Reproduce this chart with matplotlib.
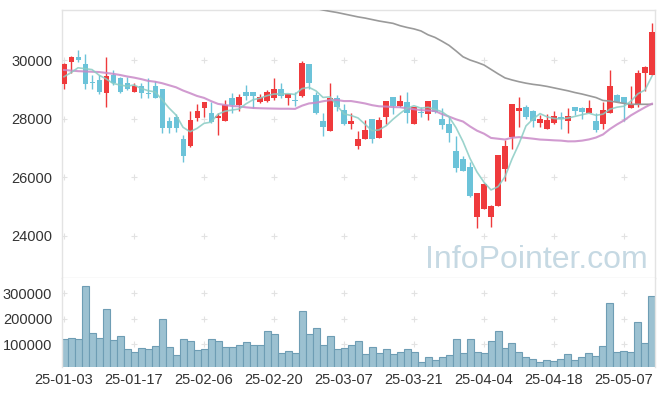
import matplotlib
matplotlib.use("Agg")
import matplotlib.pyplot as plt
import numpy as np
import pandas as pd

# trading days shown (yy-mm-dd)
dates = [
    "25-01-03", "25-01-06", "25-01-07", "25-01-08", "25-01-09", "25-01-10",
    "25-01-13", "25-01-14", "25-01-15", "25-01-16", "25-01-17", "25-01-20",
    "25-01-21", "25-01-22", "25-01-23", "25-01-24", "25-01-31",
    "25-02-03", "25-02-04", "25-02-05", "25-02-06", "25-02-07", "25-02-10",
    "25-02-11", "25-02-12", "25-02-13", "25-02-14", "25-02-17", "25-02-18",
    "25-02-19", "25-02-20", "25-02-21", "25-02-24", "25-02-25", "25-02-26",
    "25-02-27", "25-02-28",
    "25-03-04", "25-03-05", "25-03-06", "25-03-07", "25-03-10", "25-03-11",
    "25-03-12", "25-03-13", "25-03-14", "25-03-17", "25-03-18", "25-03-19",
    "25-03-20", "25-03-21", "25-03-24", "25-03-25", "25-03-26", "25-03-27",
    "25-03-28", "25-03-31",
    "25-04-01", "25-04-02", "25-04-03", "25-04-04", "25-04-07", "25-04-08",
    "25-04-09", "25-04-10", "25-04-11", "25-04-14", "25-04-15", "25-04-16",
    "25-04-17", "25-04-18", "25-04-21", "25-04-22", "25-04-23", "25-04-24",
    "25-04-25", "25-04-28", "25-04-29", "25-04-30",
    "25-05-02", "25-05-07", "25-05-08", "25-05-09", "25-05-12", "25-05-13",
]

opens = [29193, 29943, 30091, 29864, 29261, 29318, 28886, 29489, 29386, 29205,
         28920, 29114, 28864, 29114, 29011, 27920, 28068, 27307, 27079, 28034,
         28375, 28182, 28034, 27931, 28694, 28466, 28898, 28898, 28580, 28614,
         28694, 29000, 28694, 28636, 28783, 29852, 28807, 27920, 27591, 28694,
         28296, 27818, 27079, 27295, 27978, 27330, 28068, 28728, 28432, 28568,
         27807, 28216, 28148, 28636, 27989, 27818, 26898, 26625, 26341, 24659,
         24909, 24659, 25034, 26284, 27386, 28273, 28409, 28273, 27841, 27637,
         27841, 28068, 27932, 28387, 28352, 28182, 27920, 27807, 28182, 28807,
         28728, 28352, 28466, 29545, 29489]
highs = [29909, 30148, 30341, 30193, 29489, 29489, 30114, 29659, 29409, 29432,
         29227, 29205, 29375, 29295, 29011, 28068, 28148, 27443, 28261, 28489,
         28580, 28580, 28182, 28636, 28864, 28841, 29148, 28898, 28830, 28977,
         29375, 29205, 28841, 28898, 29966, 29852, 28898, 28182, 29205, 28807,
         28489, 28182, 27591, 27955, 28000, 28068, 28602, 28728, 28807, 28898,
         28387, 28387, 28591, 28636, 28352, 28068, 27409, 26739, 26534, 25477,
         25818, 25057, 26761, 27273, 28500, 28728, 28455, 28296, 28125, 28148,
         28261, 28239, 28352, 28387, 28387, 28636, 28182, 28580, 29659, 28830,
         28728, 29114, 29659, 29807, 31250]
lows = [29023, 29545, 29943, 29000, 29000, 28830, 28387, 29148, 28864, 28977,
        28898, 28693, 28693, 28693, 27500, 27522, 27557, 26513, 27050, 27920,
        28068, 27863, 27443, 27931, 28182, 28272, 28636, 28353, 28523, 28580,
        28636, 28716, 28466, 28443, 28728, 29000, 28150, 27409, 27591, 28261,
        27780, 27637, 26966, 27295, 27159, 27330, 27818, 28159, 28387, 27841,
        27807, 28046, 27955, 28182, 27637, 27216, 26193, 26200, 25341, 24262,
        24909, 24295, 25034, 25886, 26955, 27705, 27977, 27727, 27705, 27637,
        27818, 27637, 27523, 28125, 27989, 28182, 27534, 27637, 28182, 28560,
        27932, 28352, 28409, 28955, 29489]
closes = [29864, 30091, 30000, 29193, 29216, 28920, 29455, 29227, 28920, 29023,
          29114, 28886, 28830, 28716, 27693, 27693, 27693, 26739, 27955, 28261,
          28557, 27898, 28091, 28466, 28466, 28728, 28783, 28783, 28728, 28898,
          29011, 28783, 28841, 28602, 29886, 29227, 28182, 27727, 28694, 28387,
          27818, 27920, 27307, 27614, 27295, 27955, 28602, 28432, 28602, 28182,
          28387, 28182, 28591, 28239, 27784, 27523, 26329, 26216, 25364, 25477,
          25773, 25023, 26761, 27068, 28500, 28375, 28068, 27920, 28000, 27955,
          28091, 27978, 28091, 28273, 28239, 28352, 27614, 28296, 29114, 28580,
          28523, 28489, 29545, 29750, 30955]
volumes = [119600, 123500, 119600, 328600, 143100, 123500, 237200, 115700,
           131300, 80400, 68600, 84300, 80400, 92100, 198000, 88200, 56800,
           119600, 111700, 76400, 80400, 119600, 111700, 88200, 88200, 96100,
           107800, 96100, 96100, 151000, 139200, 64700, 72500, 64700, 229400,
           139200, 162700, 96100, 131300, 80400, 84300, 96100, 111700, 60700,
           88200, 64700, 80400, 60700, 68600, 80400, 68600, 29400, 49000,
           37200, 49000, 56800, 119600, 64700, 119600, 68600, 64700, 111700,
           151000, 84300, 103900, 68600, 49000, 41100, 29400, 37200, 33300,
           41100, 60700, 37200, 49000, 64700, 52900, 92100, 260800, 68600,
           72500, 68600, 186300, 103900, 288200]

# moving-average values before enough history is on the chart
ma5_head = [29430, 29570, 29735, 29705]
ma20_head = [29660, 29640, 29620, 29610, 29600, 29590, 29560, 29530, 29490,
             29440, 29400, 29350, 29290, 29260, 29210, 29140, 29070, 28960,
             28870]
ma60 = [np.nan] * 36 + [
    31760, 31705, 31660, 31620, 31570, 31520, 31470, 31430, 31380, 31330,
    31290, 31250, 31170, 31110, 31060, 30990, 30860, 30770, 30640, 30500,
    30310, 30110, 30000, 29920, 29830, 29680, 29530, 29390, 29320, 29260,
    29210, 29170, 29140, 29100, 29050, 29000, 28950, 28890, 28840, 28780,
    28720, 28620, 28600, 28560, 28520, 28490, 28490, 28490, 28490]

RED = "#ef3a3c"
BLUE = "#6cc3d9"

plt.rcParams["font.family"] = ["Liberation Sans Narrow", "Liberation Sans", "DejaVu Sans"]

o = np.array(opens, float)
h = np.array(highs, float)
l = np.array(lows, float)
c = np.array(closes, float)
x = np.arange(len(dates))

close_s = pd.Series(c)
ma5 = close_s.rolling(5).mean().to_numpy()
ma5[:4] = ma5_head
ma20 = close_s.rolling(20).mean().to_numpy()
ma20[:19] = ma20_head

fig = plt.figure(figsize=(6.65, 3.96), dpi=100)
ax = fig.add_axes([62 / 665, 118 / 396, 593 / 665, 268 / 396])
ax2 = fig.add_axes([62 / 665, 29 / 396, 593 / 665, 89 / 396], sharex=ax)

up = c >= o
cols = np.where(up, RED, BLUE)
ax.vlines(x, l, h, colors=cols, linewidth=1.0, zorder=2)
body_lo = np.minimum(o, c)
body_h = np.maximum(np.abs(c - o), 35)
ax.bar(x, body_h, bottom=body_lo, width=0.72, color=cols, linewidth=0, zorder=3)

ax.plot(x, ma60, color="#9a9a9a", linewidth=1.2, zorder=4)
ax.plot(x, ma20, color="#c98ac8", linewidth=1.5, alpha=0.85, zorder=4)
ax.plot(x, ma5, color="#8accc4", linewidth=1.2, alpha=0.85, zorder=5)

xticks = np.arange(0, len(dates), 10)
price_ticks = [24000, 26000, 28000, 30000]
vol_ticks = [100000, 200000, 300000]

for xt in xticks:
    for yt in price_ticks:
        ax.plot(xt, yt, "+", color="#e2e2e2", ms=4.5, mew=0.8, zorder=1)
    for yt in vol_ticks:
        ax2.plot(xt, yt, "+", color="#e2e2e2", ms=4.5, mew=0.8, zorder=1)

ax.set_xlim(-0.29, 84.43)
ax.set_ylim(22568, 31705)
ax.set_yticks(price_ticks)
ax.set_yticklabels([str(t) for t in price_ticks])
ax.tick_params(axis="y", length=0, pad=7, labelsize=10.5, labelcolor="#333333")
ax.tick_params(axis="x", length=0, labelbottom=False)

ax2.bar(x, volumes, width=1.0, color="#9cc1d1", edgecolor="#6e9db4", linewidth=0.8, zorder=2)
ax2.set_ylim(11000, 360000)
ax2.set_yticks(vol_ticks)
ax2.set_yticklabels([str(t) for t in vol_ticks])
ax2.set_xticks(xticks)
ax2.set_xticklabels([dates[i] for i in xticks])
ax2.tick_params(axis="y", length=0, pad=7, labelsize=10.5, labelcolor="#333333")
ax2.tick_params(axis="x", length=0, pad=4, labelsize=10.5, labelcolor="#333333")

for a in (ax, ax2):
    for s in a.spines.values():
        s.set_color("#e3e3e3")
        s.set_linewidth(1.0)
ax2.spines["bottom"].set_visible(False)
ax2.spines["top"].set_visible(False)

fig.text(648 / 665, (396 - 268) / 396, "InfoPointer.com", ha="right", va="baseline",
         fontsize=23, color="#c6d9e3", family=["Liberation Sans", "DejaVu Sans"],
         zorder=0)

fig.savefig("out.png", dpi=100)
